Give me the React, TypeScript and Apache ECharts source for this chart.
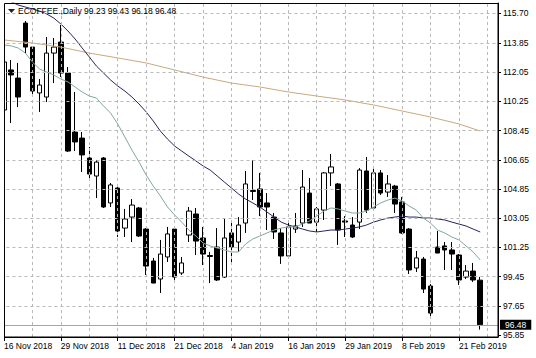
import React, { useEffect, useRef } from 'react';
import * as echarts from 'echarts';

const dates = [
  '16 Nov 2018', '19 Nov 2018', '20 Nov 2018', '21 Nov 2018', '23 Nov 2018', '26 Nov 2018', '27 Nov 2018', '28 Nov 2018',
  '29 Nov 2018', '30 Nov 2018', '3 Dec 2018', '4 Dec 2018', '5 Dec 2018', '6 Dec 2018', '7 Dec 2018', '10 Dec 2018',
  '11 Dec 2018', '12 Dec 2018', '13 Dec 2018', '14 Dec 2018', '17 Dec 2018', '18 Dec 2018', '19 Dec 2018', '20 Dec 2018',
  '21 Dec 2018', '24 Dec 2018', '26 Dec 2018', '27 Dec 2018', '28 Dec 2018', '31 Dec 2018', '2 Jan 2019', '3 Jan 2019',
  '4 Jan 2019', '7 Jan 2019', '8 Jan 2019', '9 Jan 2019', '10 Jan 2019', '11 Jan 2019', '14 Jan 2019', '15 Jan 2019',
  '16 Jan 2019', '17 Jan 2019', '18 Jan 2019', '22 Jan 2019', '23 Jan 2019', '24 Jan 2019', '25 Jan 2019', '28 Jan 2019',
  '29 Jan 2019', '30 Jan 2019', '31 Jan 2019', '1 Feb 2019', '4 Feb 2019', '5 Feb 2019', '6 Feb 2019', '7 Feb 2019',
  '8 Feb 2019', '11 Feb 2019', '12 Feb 2019', '13 Feb 2019', '14 Feb 2019', '15 Feb 2019', '19 Feb 2019', '20 Feb 2019',
  '21 Feb 2019', '22 Feb 2019', '25 Feb 2019', '26 Feb 2019',
];

const opens = [
  109.72, 112.19, 111.69, 115.08, 113.60, 110.77, 110.52, 113.23, 113.91, 112.00, 108.36, 107.99, 106.76, 105.65, 106.76, 103.99,
  104.91, 102.44, 103.12, 103.68, 102.38, 100.41, 99.30, 100.66, 102.38, 99.67, 102.01, 103.31, 101.83, 100.75, 101.27, 99.42,
  102.14, 101.58, 102.75, 104.76, 104.85, 103.99, 103.12, 102.14, 100.72, 102.38, 102.75, 104.60, 102.81, 103.55, 105.84, 105.16,
  102.88, 102.63, 102.81, 105.96, 103.68, 105.84, 104.66, 105.03, 104.05, 102.38, 99.98, 100.53, 98.87, 101.27, 101.34, 101.09,
  100.78, 99.42, 99.79, 99.23,
];
const closes = [
  112.68, 111.88, 110.52, 113.60, 110.89, 111.26, 113.23, 113.60, 112.00, 107.19, 107.75, 106.95, 105.77, 106.51, 103.74, 105.10,
  102.26, 103.00, 103.86, 101.95, 100.10, 99.05, 100.84, 102.08, 99.42, 100.29, 103.49, 101.64, 100.84, 100.69, 99.24, 101.83,
  101.27, 102.63, 105.16, 104.70, 103.74, 103.74, 102.20, 100.72, 102.51, 102.57, 104.97, 102.75, 103.62, 105.84, 106.21, 102.32,
  102.81, 101.89, 106.02, 103.55, 105.84, 104.60, 105.16, 103.92, 102.14, 99.86, 100.60, 98.68, 97.20, 100.90, 101.09, 100.84,
  99.24, 99.79, 99.24, 96.48,
];
const lows = [
  109.60, 108.92, 109.90, 113.23, 110.64, 109.60, 110.21, 111.38, 111.75, 107.13, 107.19, 105.90, 105.40, 104.29, 103.68, 103.74,
  101.89, 101.89, 101.58, 101.89, 99.55, 99.05, 98.44, 100.35, 99.24, 99.55, 101.58, 100.78, 100.16, 99.05, 99.18, 99.36,
  100.23, 100.97, 102.14, 104.17, 103.18, 102.32, 101.77, 100.23, 100.66, 102.14, 102.51, 102.75, 102.20, 102.94, 105.03, 101.40,
  101.89, 101.83, 102.38, 103.37, 103.55, 104.48, 104.36, 103.37, 102.08, 99.61, 99.73, 98.44, 96.90, 100.90, 99.86, 99.86,
  98.93, 99.30, 99.12, 96.18,
];
const highs = [
  112.80, 112.80, 112.62, 115.21, 113.60, 111.63, 114.22, 114.16, 114.96, 112.37, 110.83, 108.36, 107.44, 106.64, 106.82, 105.22,
  104.97, 103.62, 104.23, 103.74, 102.44, 100.60, 101.71, 102.51, 102.44, 100.66, 103.74, 103.68, 102.51, 100.97, 102.44, 103.06,
  102.81, 103.12, 105.96, 106.64, 105.84, 104.60, 103.37, 102.44, 102.75, 103.37, 106.02, 105.53, 103.74, 105.90, 107.01, 105.22,
  103.18, 103.12, 106.14, 106.82, 106.14, 106.02, 105.71, 105.10, 104.36, 102.44, 101.03, 100.66, 98.99, 102.26, 101.58, 101.58,
  100.84, 100.16, 100.29, 99.43,
];

// fast moving average (teal)
const fastMA = [
  113.73, 113.67, 113.54, 113.23, 112.68, 112.25, 112.06, 111.88, 111.63, 111.45, 111.14, 110.83, 110.58, 110.46, 109.97, 109.53,
  108.86, 108.06, 107.25, 106.51, 105.71, 105.03, 104.42, 103.74, 103.25, 102.81, 102.32, 101.95, 101.52, 101.34, 101.21, 101.09,
  100.97, 100.97, 101.46, 101.77, 101.95, 102.14, 102.32, 102.44, 102.51, 102.51, 102.69, 102.88, 103.18, 103.49, 103.68, 103.62,
  103.49, 103.37, 103.37, 103.49, 103.74, 103.99, 104.17, 104.29, 104.11, 103.80, 103.55, 103.06, 102.75, 102.32, 102.14, 101.89,
  101.71, 101.34, 100.97, 100.47,
];
// medium moving average (navy)
const midMA = [
  116.60, 116.40, 116.19, 116.07, 115.95, 115.82, 115.64, 115.39, 115.02, 114.59, 114.10, 113.54, 112.99, 112.43, 112.00, 111.57,
  111.20, 110.89, 110.52, 110.09, 109.60, 109.04, 108.42, 107.93, 107.50, 107.19, 106.88, 106.58, 106.27, 106.02, 105.65, 105.28,
  104.91, 104.54, 104.23, 103.99, 103.74, 103.43, 103.12, 102.81, 102.63, 102.51, 102.38, 102.26, 102.20, 102.26, 102.32, 102.32,
  102.38, 102.44, 102.51, 102.63, 102.81, 102.94, 103.06, 103.12, 103.18, 103.12, 103.12, 103.06, 103.06, 103.00, 102.94, 102.81,
  102.69, 102.57, 102.38, 102.20,
];
// slow moving average (tan), read at sampled bars
const slowMAIdx = [0, 4, 8, 12, 16, 20, 24, 28, 32, 36, 40, 44, 48, 52, 56, 60, 64, 67];
const slowMAVal = [114.04, 113.85, 113.60, 113.23, 112.93, 112.62, 112.19, 111.75, 111.38, 111.14, 110.83, 110.58, 110.34, 110.03, 109.66, 109.29, 108.86, 108.42];

const yTicks = [95.85, 97.65, 99.45, 101.25, 103.05, 104.85, 106.65, 108.45, 110.25, 112.05, 113.85, 115.70];
const vGridIdx = [4, 8, 12, 16, 20, 24, 28, 32, 36, 40, 44, 48, 52, 56, 60, 64, 68];
const emptySlots = 2;
const lastPrice = 96.48;
const titleText = 'ECOFFEE.,Daily 99.23 99.43 96.18 96.48';

export default function App() {
  const ref = useRef<HTMLDivElement>(null);
  useEffect(() => {
    document.body.style.margin = '0';
    const chart = echarts.init(ref.current!, null, { renderer: 'svg' });
    const font = 'Liberation Sans';
    const cats = [...dates, ...Array(emptySlots).fill('')];
    const candles = dates.map((_, i) => [opens[i], closes[i], lows[i], highs[i]]);
    const showIdx = (i: number) => i % 8 === 0 && i < dates.length;
    const gridStyle = { color: '#b9b9b9', type: [3, 3], width: 1 };

    chart.setOption({
      animation: false,
      backgroundColor: '#ffffff',
      textStyle: { fontFamily: font },
      grid: { left: 0.45, right: 38, top: 3, bottom: 21, containLabel: false },
      xAxis: {
        type: 'category',
        data: cats,
        boundaryGap: true,
        axisLine: { show: true, lineStyle: { color: '#000', width: 1 } },
        axisTick: { show: true, alignWithLabel: true, interval: showIdx, length: 4, lineStyle: { color: '#000' } },
        axisLabel: {
          show: true, interval: showIdx, align: 'left', margin: 4,
          color: '#000', fontSize: 8.5, fontFamily: font,
        },
        splitLine: { show: false },
      },
      yAxis: {
        type: 'value',
        position: 'right',
        min: 95.725,
        max: 116.317,
        scale: true,
        axisLine: { show: true, lineStyle: { color: '#000', width: 1 } },
        axisTick: { show: true, customValues: yTicks, length: 3, lineStyle: { color: '#000' } },
        axisLabel: {
          show: true, customValues: yTicks, margin: 5, color: '#000', fontSize: 8.5, fontFamily: font,
          formatter: (v: number) => v.toFixed(2),
        },
        splitLine: { show: false },
      },
      series: [
        {
          name: 'grid',
          type: 'line',
          data: [],
          z: 0,
          silent: true,
          markLine: {
            silent: true,
            symbol: 'none',
            label: { show: false },
            lineStyle: gridStyle,
            data: [
              ...vGridIdx.map((i) => ({ xAxis: i })),
              ...yTicks.filter((v) => v > 96).map((v) => ({ yAxis: v })),
            ],
          },
        },
        {
          name: 'price',
          type: 'candlestick',
          data: candles,
          barWidth: 5,
          z: 2,
          itemStyle: {
            color: '#ffffff',
            color0: '#000000',
            borderColor: '#000000',
            borderColor0: '#000000',
            borderWidth: 1,
          },
          markLine: {
            silent: true,
            symbol: 'none',
            lineStyle: { color: '#a6a6a6', type: 'solid', width: 1 },
            label: {
              show: true, position: 'end', distance: 2,
              formatter: lastPrice.toFixed(2),
              backgroundColor: '#000', color: '#fff',
              padding: [1, 5, 0, 5], fontSize: 8.5, fontFamily: font,
            },
            data: [{ yAxis: lastPrice }],
          },
        },
        {
          name: 'slow', type: 'line', z: 3, symbol: 'none', silent: true,
          data: slowMAIdx.map((i, k) => [i, slowMAVal[k]]),
          lineStyle: { color: '#c9a97e', width: 1 },
        },
        {
          name: 'mid', type: 'line', z: 3, symbol: 'none', silent: true,
          data: midMA,
          lineStyle: { color: '#25255e', width: 1 },
        },
        {
          name: 'fast', type: 'line', z: 3, symbol: 'none', silent: true,
          data: fastMA,
          lineStyle: { color: '#7fa89a', width: 1 },
        },
      ],
      graphic: [
        { type: 'rect', z: 100, silent: true, shape: { x: 0, y: 0, width: 4, height: 340 }, style: { fill: '#ffffff' } },
        { type: 'rect', z: 101, silent: true, shape: { x: 4.5, y: 3.5, width: 493.5, height: 333.5 }, style: { fill: 'none', stroke: '#000', lineWidth: 1 } },
        { type: 'polygon', z: 102, silent: true, shape: { points: [[8, 9], [15, 9], [11.5, 13]] }, style: { fill: '#222' } },
        {
          type: 'text', z: 102, silent: true, x: 18, y: 11,
          style: { text: titleText, fill: '#000', font: `8.5px "${font}"`, verticalAlign: 'middle', align: 'left' },
        },
      ],
    });
    return () => chart.dispose();
  }, []);
  return <div ref={ref} style={{ width: 536, height: 358 }} />;
}
